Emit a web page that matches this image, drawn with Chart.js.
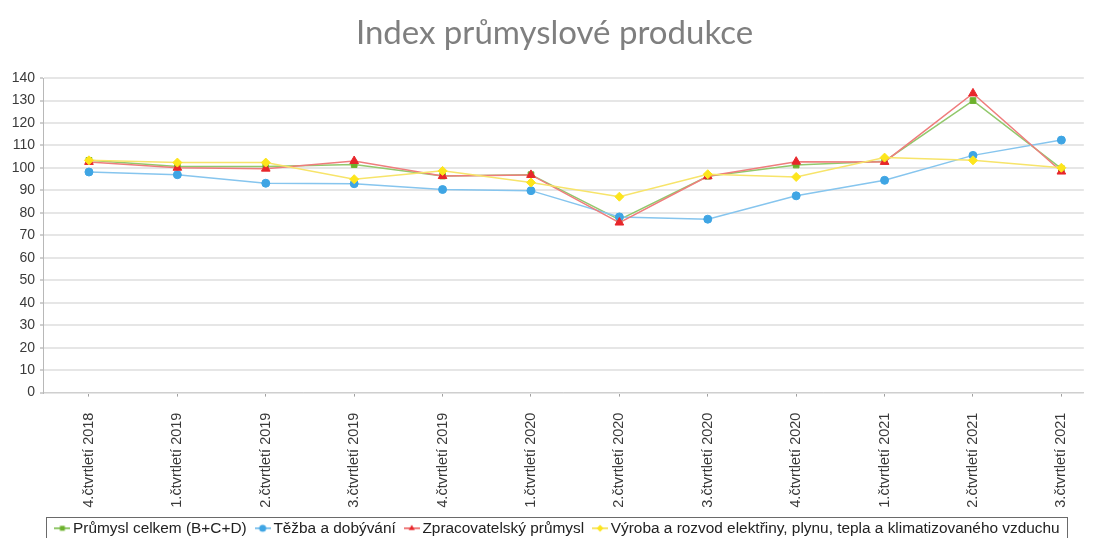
<!DOCTYPE html>
<html>
<head>
<meta charset="utf-8">
<script src="https://cdn.jsdelivr.net/npm/chart.js@4.4.1/dist/chart.umd.min.js"></script>
<style>
html, body { margin: 0; padding: 0; background: #fff; overflow: hidden; }
#wrap { width: 1095px; height: 546px; position: relative; }
</style>
</head>
<body>
<div id="wrap"><canvas id="chart"></canvas></div>
<script>
// quarters on the x axis
const quarters = [
    '4.čtvrtletí 2018', '1.čtvrtletí 2019', '2.čtvrtletí 2019', '3.čtvrtletí 2019',
    '4.čtvrtletí 2019', '1.čtvrtletí 2020', '2.čtvrtletí 2020', '3.čtvrtletí 2020',
    '4.čtvrtletí 2020', '1.čtvrtletí 2021', '2.čtvrtletí 2021', '3.čtvrtletí 2021'
];

// series values
const prumyslCelkem = [103.4, 100.7, 100.7, 101.5, 96.4, 97.0, 77.0, 96.3, 101.3, 103.0, 130.0, 99.7];
const tezba = [98.2, 97.0, 93.2, 93.0, 90.4, 89.9, 78.2, 77.2, 87.6, 94.5, 105.6, 112.4];
const zpracovatelsky = [102.7, 100.1, 99.7, 103.1, 96.4, 96.9, 75.7, 96.3, 102.8, 102.7, 133.2, 98.4];
const vyroba = [103.4, 102.4, 102.4, 95.0, 98.7, 93.5, 87.2, 97.2, 96.0, 104.6, 103.4, 100.1];

const seriesNames = [
    'Průmysl celkem (B+C+D)',
    'Těžba a dobývání',
    'Zpracovatelský průmysl',
    'Výroba a rozvod elektřiny, plynu, tepla a klimatizovaného vzduchu'
];

const yTicks = [0, 10, 20, 30, 40, 50, 60, 70, 80, 90, 100, 110, 120, 130, 140];

// small line + marker icons for the legend
function legendIcon(lineColor, pointColor, style, radius) {
    const c = document.createElement('canvas');
    c.width = 16;
    c.height = 10;
    const ctx = c.getContext('2d');
    ctx.strokeStyle = lineColor;
    ctx.lineWidth = 2;
    ctx.beginPath();
    ctx.moveTo(0, 5);
    ctx.lineTo(16, 5);
    ctx.stroke();
    ctx.fillStyle = pointColor;
    Chart.helpers.drawPoint(ctx, { pointStyle: style, radius: radius, borderWidth: 0, rotation: 0 }, 8, 5);
    return c;
}

function makeSet(name, values, lineColor, pointColor, style, radius) {
    return {
        label: name,
        data: values.map((v, i) => ({ x: i, y: v })),
        borderColor: lineColor,
        backgroundColor: pointColor,
        borderWidth: 1.5,
        pointStyle: style,
        pointRadius: radius,
        pointBackgroundColor: pointColor,
        pointBorderColor: pointColor,
        pointBorderWidth: 1,
        tension: 0,
        icon: legendIcon(lineColor, pointColor, style, 3.5)
    };
}

// reversed so the yellow series ends up drawn on top; legend is reversed back
const datasets = [
    makeSet(seriesNames[3], vyroba, '#f7e46a', '#fde51c', 'rectRot', 4.5),
    makeSet(seriesNames[2], zpracovatelsky, '#ef7d7d', '#e8262b', 'triangle', 5),
    makeSet(seriesNames[1], tezba, '#86c5ee', '#3fa5e4', 'circle', 4),
    makeSet(seriesNames[0], prumyslCelkem, '#92c86c', '#6cb12c', 'rect', 4)
];

// title and legend sit a bit right of centre in the original; legend has a frame
const nudge = {
    id: 'nudge',
    afterLayout(chart) {
        chart.legend.left += 17;
        chart.legend.right += 17;
        chart.titleBlock.left += 12;
        chart.titleBlock.right += 12;
    },
    afterDraw(chart) {
        const boxes = chart.legend.legendHitBoxes;
        if (!boxes || !boxes.length) return;
        const ctx = chart.ctx;
        const left = Math.min(...boxes.map(b => b.left)) - 13;
        const right = Math.max(...boxes.map(b => b.left + b.width)) + 8;
        const top = boxes[0].top - 4;
        const bottom = boxes[0].top + boxes[0].height + 6;
        ctx.save();
        ctx.strokeStyle = '#6a6a6a';
        ctx.lineWidth = 1;
        ctx.strokeRect(Math.round(left) + 0.5, Math.round(top) + 0.5, Math.round(right - left), Math.round(bottom - top));
        ctx.restore();
    }
};

new Chart(document.getElementById('chart'), {
    type: 'line',
    data: { datasets: datasets },
    plugins: [nudge],
    options: {
        responsive: true,
        maintainAspectRatio: false,
        animation: false,
        layout: { padding: { left: 0, right: 10, top: 0, bottom: 0 } },
        scales: {
            x: {
                type: 'linear',
                min: -0.52,
                max: 11.254,
                afterBuildTicks(scale) {
                    scale.ticks = quarters.map((q, i) => ({ value: i }));
                },
                afterFit(scale) { scale.height = 115; },
                ticks: {
                    autoSkip: false,
                    minRotation: 90,
                    maxRotation: 90,
                    padding: 16,
                    color: '#3a3a3a',
                    font: { family: 'Liberation Sans', size: 14.5 },
                    callback: v => quarters[v]
                },
                grid: { drawOnChartArea: false, tickLength: 4, tickColor: '#a0a0a0', tickWidth: 1 },
                border: { color: '#cfcfcf', width: 1 }
            },
            y: {
                min: 0,
                max: 140,
                afterBuildTicks(scale) {
                    scale.ticks = yTicks.map(v => ({ value: v }));
                },
                afterFit(scale) { scale.width = 43; },
                ticks: {
                    padding: 5,
                    color: '#3a3a3a',
                    font: { family: 'Liberation Sans', size: 14 }
                },
                grid: { color: '#e6e6e6', lineWidth: 2, tickLength: 3, tickColor: '#a0a0a0', tickWidth: 1 },
                border: { color: '#b8b8b8', width: 1 }
            }
        },
        plugins: {
            title: {
                display: true,
                text: 'Index průmyslové produkce',
                color: '#7f7f7f',
                font: { family: 'Lato', size: 33, weight: 'normal' },
                padding: { top: 14, bottom: 24.5 }
            },
            legend: {
                position: 'bottom',
                reverse: true,
                labels: {
                    usePointStyle: true,
                    pointStyleWidth: 6,
                    padding: 13,
                    color: '#222',
                    font: { family: 'Liberation Sans', size: 15.4 },
                    generateLabels(chart) {
                        const items = Chart.defaults.plugins.legend.labels.generateLabels(chart);
                        items.forEach(it => { it.pointStyle = chart.data.datasets[it.datasetIndex].icon; });
                        return items;
                    }
                }
            },
            tooltip: { enabled: false }
        }
    }
});
</script>
</body>
</html>
